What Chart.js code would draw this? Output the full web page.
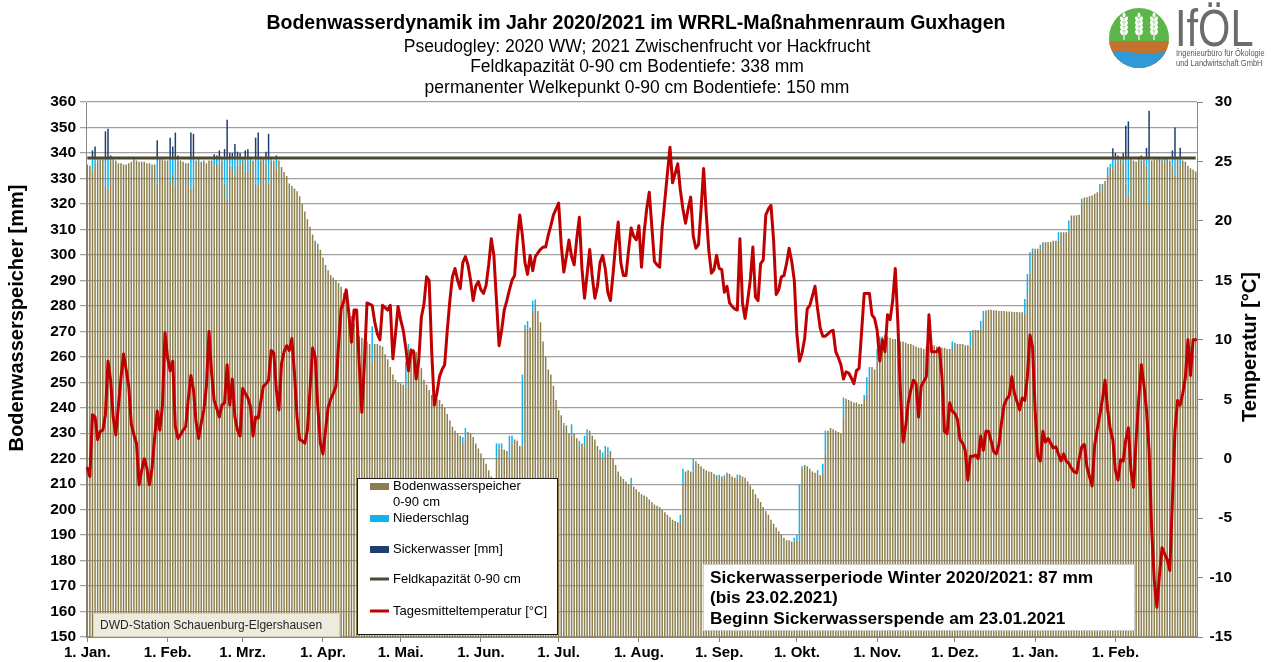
<!DOCTYPE html>
<html>
<head>
<meta charset="utf-8">
<script src="https://cdn.jsdelivr.net/npm/chart.js@4.4.1/dist/chart.umd.min.js"></script>
<style>
html,body{margin:0;padding:0;background:#fff;}
#wrap{position:relative;width:1271px;height:662px;}
canvas{display:block;}
</style>
</head>
<body>
<div id="wrap"><canvas id="c" width="1271" height="662"></canvas></div>
<script>
// ---------------- DATA (daily, 1 Jan 2020 onwards) ----------------
const startDate = '2020-01-01';

// Bodenwasserspeicher 0-90 cm [mm]
const soilWater = [
335.5,335,333,336,337,337.5,337.5,327,326,337,
337.5,337,336,336,335.5,335.5,336,336.5,337.5,337,
336.5,336.5,336.5,336,336,335.5,335.5,328,337.5,337.5,
337,337,329,332,327,337,337,336.5,336,336,
326,327,337,336.5,336.5,337,336,337,337,335,
336,334.5,337,328,322,335,334.5,332,335,336,
337,333,333,336.5,337,328,327,337,337.5,336,
328,337,337,334,337,334.5,332.5,331,328,327,
326,325,323,320,317,314,311,308,305,304,
302,299,296,294,292,291,290,289,287.5,285,
282,279,276,273,270,268,267.5,267,266,265,
258,265,265,264.5,264,261,259,256,253,251,
250,249.5,249,248,263,263.5,263,262,258,255.5,
251,249,247,245,244,243.5,243,241.5,240,237.5,
235,232.5,231,230,229,226,227,230.5,230,228.5,
226,224,222,220,218,215.5,213,212,220,224,
224,223.5,223,220,226,227.5,227,225,225,270.5,
271,271.5,278,280,278,273.5,266,260,255,253,
248.6,243,239,237,233,233,230,229,230,228,
225,226,225,229,231,229,227.5,225,223.5,220,
221,222,223,220,217.5,215,213,212,211,210,
210,209,208,207,206,205.5,205,204,203,202,
201.5,201,200,199,198,197,196,195.5,195,195,
210,215,215.5,215,215,219,218,217,216,215.4,
215,214.8,214,213.5,212,213,212.5,214.5,214,213,
212.5,212,213.7,213,212.5,211,209.5,208,206,204.5,
203,201,199.5,198,196,194.5,193,191.5,190,189,
188,188,187.5,187.5,188,188,216,217.5,217,216,
215,214.5,214,213.5,214,222,231,232,231.5,231,
230.5,230,236,243.5,243,242.5,242,242,241.5,241.5,
243,245,251,256,255,258,263,268,268.5,268,
267.5,267,267,266.5,266,266,265.5,265,265,264.5,
264,263.5,263.5,263,262,264,264,264.5,264,264,
263.5,263.5,263,263,263,265.5,265,265,265,264.5,
264.5,264,270.5,270.5,270.5,271,274,278.2,278.5,278.5,
278.3,278.2,278,278,278,277.8,277.8,277.7,277.6,277.6,
277.5,277.5,277,283,292.5,301.5,302.4,302.4,302.5,304.9,
304.9,305,305,305.5,305.5,305.5,308.9,308.9,308.9,309,
315.4,315.4,315.5,315.7,320,322.5,322.6,323,323.3,324,
324.6,325,327.8,329,331,334.4,334,336,337,337.5,
336,328,323,337.5,337,336.5,337,337,337.5,335,
320,337,337.5,337.5,337.5,337.5,336.5,337.5,337,335.5,
331,337.5,335,337,336.5,335,334,333.4,332.7
];

// Niederschlag [mm] : [day index, mm]
const precipitation = [
[2,5],[3,2],[4,1.5],[7,11],[8,12],[9,1],[27,10],[32,9],[33,6],[34,11],[35,1],
[40,12],[41,11],[43,2],[49,3],[50,2],[51,3.5],[52,1],[53,10],[54,16],[55,3],
[56,3.5],[57,6],[58,3],[59,2],[60,1],[61,5],[62,5],[63,1.5],[65,10],[66,11],
[67,1.5],[69,2],[70,10],[71,1.5],[73,4],[88,0.5],[89,0.5],[110,14],[123,10],
[124,2],[145,2.5],[146,5],[158,6],[159,2],[160,2],[163,9],[164,3],[168,28],
[169,2],[170,3],[172,4],[173,2.5],[184,1],[187,4.5],[190,2],[192,4],[193,2.5],
[199,2.5],[200,4],[201,2.5],[210,2.5],[229,3],[230,6],[234,5],[244,1.7],[246,1],
[251,1.7],[273,1.5],[274,2],[275,22],[276,1],[282,1.5],[284,4],[285,9],[292,8],
[300,2],[301,7],[302,5],[305,5],[306,5],[324,2],[334,3],[341,6],[345,3],[346,4],
[362,5.7],[363,9.5],[364,8.5],[365,1],[368,1.5],[375,3.4],[379,4.5],[384,2],
[391,2.8],[394,3.4],[395,1.3],[396,4],[397,2],[398,1],[400,2],[401,10],[402,15],
[406,1],[407,1],[409,3],[410,18],[416,1.5],[419,2.5],[420,7],[422,3]
];

// Sickerwasser [mm] : [day index, mm]
const seepage = [
[2,3],[3,4.5],[7,10.5],[8,11.5],[9,1],[27,7],[32,8],[33,4.5],[34,10],[35,1],
[40,10],[41,9.5],[49,1.5],[50,1],[51,3],[53,3.5],[54,15],[55,2],[56,2],[57,5.5],
[58,2.5],[59,2],[61,3],[62,3.5],[65,8],[66,10],[69,2.5],[70,9.5],[73,1],
[396,3.8],[397,2],[398,1],[400,2],[401,12.7],[402,14.4],[406,0.5],[407,1],
[409,4],[410,18.6],[419,3],[420,12],[422,4]
];

// Tagesmitteltemperatur [°C]
const temperature = [
-0.8,-1.5,3.7,3.5,1.6,2.3,2.4,3.7,8.2,6.6,
3.5,2.0,4.4,6.8,8.8,7.5,6.1,2.9,2.0,1.3,
-2.2,-1.0,0.0,-0.8,-2.2,-0.8,1.8,4.0,2.4,4.4,
10.6,8.5,7.4,8.2,2.7,1.7,2.0,2.4,2.7,5.0,
7.0,5.8,3.1,1.7,3.0,4.1,6.1,10.7,7.2,4.9,
4.2,3.5,4.5,4.7,7.9,4.5,6.7,3.5,2.4,1.9,
5.9,5.5,5.1,4.4,1.9,3.5,3.4,4.8,6.1,6.3,
6.6,9.1,8.9,5.8,4.1,8.0,9.0,9.5,9.1,10.1,
7.2,3.5,1.6,1.5,1.3,2.4,5.8,9.3,8.6,4.4,
1.3,0.4,2.4,4.3,5.0,5.5,6.1,9.5,12.6,13.2,
14.2,12.2,9.8,12.5,12.5,8.0,3.9,8.0,13.1,13.0,
12.9,11.5,10.5,10.0,12.9,12.7,12.5,12.9,8.4,10.5,
12.8,11.7,10.8,9.3,7.4,9.1,9.0,6.7,8.3,11.9,
13.0,15.3,15.0,9.0,4.5,5.5,6.9,7.5,7.9,10.8,
13.3,15.3,16.0,15.0,14.3,16.5,17.0,16.3,15.0,13.3,
14.5,14.9,14.2,13.9,14.6,16.3,18.5,17.1,13.3,9.5,
10.8,12.5,13.3,14.2,15.0,15.4,18.4,20.5,18.8,16.5,
15.5,17.1,15.8,17.0,17.3,17.6,17.8,17.8,18.8,19.6,
20.5,21.0,21.5,18.0,15.7,17.0,18.4,17.0,16.3,18.5,
20.3,16.0,13.5,15.5,17.6,15.3,13.5,14.5,16.5,17.1,
16.0,14.0,13.3,15.5,18.0,19.9,16.5,15.4,15.4,17.5,
19.4,18.7,18.4,19.6,16.1,19.0,21.0,22.4,19.5,16.6,
16.3,16.1,19.5,21.7,24.0,26.2,23.2,24.0,24.8,22.6,
21.0,19.8,21.0,22.0,18.7,17.7,18.0,21.0,24.4,20.6,
17.5,15.6,15.9,17.1,16.0,15.9,14.0,14.5,13.1,12.8,
12.6,12.5,18.5,13.1,11.8,13.3,15.0,17.8,13.6,13.3,
16.4,16.7,20.5,21.0,21.3,18.4,13.8,14.2,15.3,15.4,
16.4,17.7,16.6,15.0,10.5,8.2,8.9,10.1,12.6,12.9,
13.7,14.5,12.6,11.0,10.3,10.3,10.5,10.7,10.8,9.0,
8.5,7.9,6.7,7.3,7.2,6.8,6.3,7.4,7.6,10.7,
13.9,13.9,13.9,12.1,11.8,10.8,8.2,10.0,9.0,12.1,
11.7,13.3,16.0,11.4,5.5,1.4,2.7,4.7,5.8,6.6,
6.3,3.5,6.1,6.5,6.9,12.1,9.0,9.0,9.0,9.3,
6.9,2.3,2.1,4.7,4.0,3.8,3.3,1.6,1.3,0.7,
-1.8,0.2,0.2,0.3,0.0,1.9,0.7,2.3,2.3,1.5,
0.6,0.4,1.2,3.0,4.5,5.0,5.3,6.9,5.5,4.8,
4.1,5.1,4.9,6.9,10.4,9.4,4.1,0.2,-0.2,2.3,
1.4,1.7,1.3,0.9,1.0,0.4,-0.2,0.4,-0.2,-0.4,
-0.8,-1.1,-1.2,0.0,1.0,1.2,-0.7,-1.5,-2.3,1.2,
2.5,3.7,5.0,6.6,4.1,2.5,1.6,-1.0,-1.8,-0.1,
-0.2,1.6,2.6,-1.0,-2.4,1.6,5.0,7.9,6.2,4.1,
0.7,-6.0,-10.2,-12.5,-9.8,-7.5,-8.0,-8.5,-9.4,-3.5,
2.4,4.9,4.5,5.5,6.8,10.0,7.0,10.0,10.0
];

const fieldCapacity = 338;  // Feldkapazität 0-90 cm [mm]

// Tick labels (first day of each month)
const tickDays   = [0,31,60,91,121,152,182,213,244,274,305,335,366,397];
const tickLabels = ['1. Jan.','1. Feb.','1. Mrz.','1. Apr.','1. Mai.','1. Jun.','1. Jul.','1. Aug.','1. Sep.','1. Okt.','1. Nov.','1. Dez.','1. Jan.','1. Feb.'];

// ---------------- build tables for Chart.js ----------------
const t0 = Date.parse(startDate + 'T00:00:00Z');
const labels = soilWater.map((_, i) => new Date(t0 + i * 86400000).toISOString().slice(0, 10));
function fromEvents(events) {
  const arr = soilWater.map(() => 0);
  events.forEach(([d, v]) => { arr[d] = v; });
  return arr;
}
const precipData = fromEvents(precipitation);
const seepageData = fromEvents(seepage);
const fkData = labels.map(() => fieldCapacity);

const FONT = "'Liberation Sans', Arial, Helvetica, sans-serif";
const COL_SOIL = '#8c7f4e';
const COL_PREC = '#12b2ee';
const COL_SEEP = '#1f3f72';
const COL_FK = '#4c4830';
const COL_TEMP = '#c00000';

const deco = {
  id: 'deco',
  beforeDraw(chart) {
    const ctx = chart.ctx;
    ctx.save();
    ctx.fillStyle = '#fff';
    ctx.fillRect(0, 0, chart.width, chart.height);
    ctx.restore();
  },
  afterDraw(chart) {
    const ctx = chart.ctx;
    ctx.save();
    // Titles
    ctx.fillStyle = '#000';
    ctx.textAlign = 'center';
    ctx.textBaseline = 'middle';
    ctx.font = 'bold 19.5px ' + FONT;
    ctx.fillText('Bodenwasserdynamik im Jahr 2020/2021 im WRRL-Maßnahmenraum Guxhagen', 636, 24);
    ctx.font = '17.5px ' + FONT;
    ctx.fillText('Pseudogley: 2020 WW; 2021 Zwischenfrucht vor Hackfrucht', 637, 47);
    ctx.fillText('Feldkapazität 0-90 cm Bodentiefe: 338 mm', 637, 67.5);
    ctx.fillText('permanenter Welkepunkt 0-90 cm Bodentiefe: 150 mm', 637, 88);

    // Axis titles
    ctx.font = 'bold 20px ' + FONT;
    ctx.save();
    ctx.translate(17, 318);
    ctx.rotate(-Math.PI / 2);
    ctx.fillText('Bodenwasserspeicher [mm]', 0, 0);
    ctx.restore();
    ctx.save();
    ctx.translate(1250, 347);
    ctx.rotate(-Math.PI / 2);
    ctx.fillText('Temperatur [°C]', 0, 0);
    ctx.restore();

    // DWD station box
    ctx.fillStyle = '#eeeadc';
    ctx.fillRect(93, 613, 246, 23);
    ctx.strokeStyle = '#d6d1bf';
    ctx.lineWidth = 1;
    ctx.strokeRect(93.5, 613.5, 246, 23);
    ctx.fillStyle = '#262626';
    ctx.textAlign = 'left';
    ctx.font = '12px ' + FONT;
    ctx.fillText('DWD-Station Schauenburg-Elgershausen', 100, 625.5);

    // Legend
    ctx.fillStyle = '#fff';
    ctx.fillRect(357, 478, 200, 156);
    ctx.strokeStyle = '#1a1a1a';
    ctx.lineWidth = 1;
    ctx.strokeRect(357.5, 478.5, 200, 156);
    ctx.font = '13px ' + FONT;
    ctx.fillStyle = COL_SOIL; ctx.fillRect(370, 483, 19, 7);
    ctx.fillStyle = COL_PREC; ctx.fillRect(370, 515, 19, 7);
    ctx.fillStyle = COL_SEEP; ctx.fillRect(370, 546, 19, 7);
    ctx.strokeStyle = COL_FK; ctx.lineWidth = 3;
    ctx.beginPath(); ctx.moveTo(370, 579); ctx.lineTo(389, 579); ctx.stroke();
    ctx.strokeStyle = COL_TEMP; ctx.lineWidth = 3;
    ctx.beginPath(); ctx.moveTo(370, 611); ctx.lineTo(389, 611); ctx.stroke();
    ctx.fillStyle = '#000';
    ctx.fillText('Bodenwasserspeicher', 393, 486);
    ctx.fillText('0-90 cm', 393, 502);
    ctx.fillText('Niederschlag', 393, 518);
    ctx.fillText('Sickerwasser [mm]', 393, 549);
    ctx.fillText('Feldkapazität 0-90 cm', 393, 579);
    ctx.fillText('Tagesmitteltemperatur [°C]', 393, 611);

    // Annotation box
    ctx.fillStyle = '#fff';
    ctx.fillRect(703, 564, 431, 66);
    ctx.strokeStyle = '#cfcfcf';
    ctx.lineWidth = 1;
    ctx.strokeRect(703.5, 564.5, 431, 66);
    ctx.fillStyle = '#000';
    ctx.font = 'bold 17.3px ' + FONT;
    ctx.fillText('Sickerwasserperiode Winter 2020/2021: 87 mm', 710, 578);
    ctx.fillText('(bis 23.02.2021)', 710, 598.5);
    ctx.fillText('Beginn Sickerwasserspende am 23.01.2021', 710, 619);

    // Logo
    const cx = 1139, cy = 38, r = 30;
    ctx.save();
    ctx.beginPath(); ctx.arc(cx, cy, r, 0, Math.PI * 2); ctx.clip();
    ctx.fillStyle = '#5db649'; ctx.fillRect(cx - r, cy - r, 2 * r, 2 * r);
    ctx.fillStyle = '#c3732f'; ctx.fillRect(cx - r, cy + 3, 2 * r, r);
    ctx.fillStyle = '#2f9ad6';
    ctx.beginPath();
    ctx.moveTo(cx - r, cy + 15);
    ctx.bezierCurveTo(cx - 14, cy + 8, cx + 2, cy + 22, cx + r, cy + 12);
    ctx.lineTo(cx + r, cy + r); ctx.lineTo(cx - r, cy + r); ctx.closePath(); ctx.fill();
    ctx.fillStyle = '#fff'; ctx.strokeStyle = '#fff'; ctx.lineWidth = 1.2;
    [cx - 15, cx, cx + 15].forEach(wx => {
      ctx.beginPath(); ctx.moveTo(wx, 18); ctx.lineTo(wx, 40); ctx.stroke();
      for (let k = 0; k < 4; k++) {
        const gy = 17 + k * 4.5;
        ctx.beginPath(); ctx.ellipse(wx - 2.2, gy + 2, 1.6, 2.6, -0.4, 0, Math.PI * 2); ctx.fill();
        ctx.beginPath(); ctx.ellipse(wx + 2.2, gy + 2, 1.6, 2.6, 0.4, 0, Math.PI * 2); ctx.fill();
      }
      ctx.beginPath(); ctx.ellipse(wx, 15, 1.5, 2.6, 0, 0, Math.PI * 2); ctx.fill();
    });
    ctx.restore();
    ctx.fillStyle = '#6b6b6b';
    ctx.textBaseline = 'alphabetic';
    ctx.save();
    ctx.translate(1175, 46);
    ctx.scale(0.8, 1);
    ctx.font = '52px ' + FONT;
    ctx.fillText('IfÖL', 0, 0);
    ctx.restore();
    ctx.save();
    ctx.translate(1176, 56);
    ctx.scale(0.88, 1);
    ctx.font = '8.5px ' + FONT;
    ctx.fillStyle = '#555';
    ctx.fillText('Ingenieurbüro für Ökologie', 0, 0);
    ctx.fillText('und Landwirtschaft GmbH', 0, 10);
    ctx.restore();

    ctx.restore();
  }
};

const barCommon = { barPercentage: 0.58, categoryPercentage: 1.0, borderWidth: 0, stack: 'w', yAxisID: 'y', order: 2 };

new Chart(document.getElementById('c'), {
  type: 'bar',
  data: {
    labels: labels,
    datasets: [
      { type: 'line', label: 'Tagesmitteltemperatur [°C]', data: temperature, yAxisID: 'y2',
        borderColor: COL_TEMP, borderWidth: 3, pointRadius: 0, tension: 0,
        borderJoinStyle: 'round', borderCapStyle: 'round', order: 0 },
      { type: 'line', label: 'Feldkapazität 0-90 cm', data: fkData, yAxisID: 'y', stack: 'fk',
        borderColor: COL_FK, borderWidth: 3, pointRadius: 0, order: 1 },
      Object.assign({ label: 'Bodenwasserspeicher 0-90 cm', data: soilWater, backgroundColor: COL_SOIL }, barCommon),
      Object.assign({ label: 'Niederschlag', data: precipData, backgroundColor: COL_PREC }, barCommon),
      Object.assign({ label: 'Sickerwasser [mm]', data: seepageData, backgroundColor: COL_SEEP }, barCommon)
    ]
  },
  options: {
    responsive: false,
    devicePixelRatio: 1,
    animation: false,
    layout: { padding: { top: 102, right: 39, left: 0, bottom: 0 } },
    plugins: { legend: { display: false }, tooltip: { enabled: false }, title: { display: false } },
    scales: {
      x: {
        type: 'category',
        stacked: true,
        offset: true,
        grid: { display: true, drawOnChartArea: false, drawTicks: true, tickLength: 5, color: '#868686', offset: false },
        border: { display: true, color: '#868686', width: 1 },
        ticks: {
          autoSkip: false, maxRotation: 0, minRotation: 0, padding: 2, color: '#000',
          font: { family: FONT, size: 15, weight: 'bold' },
          callback: function (v) { const i = tickDays.indexOf(v); return i >= 0 ? tickLabels[i] : ''; }
        },
        afterBuildTicks: s => { s.ticks = s.ticks.filter(t => tickDays.includes(t.value)); },
        afterFit: s => { s.height = 25; }
      },
      y: {
        type: 'linear', position: 'left', stacked: true, min: 150, max: 360,
        ticks: { stepSize: 10, color: '#000', padding: 4, font: { family: FONT, size: 15.5, weight: 'bold' } },
        grid: { color: '#a0a0a0', lineWidth: 1.25, tickLength: 6, drawTicks: true },
        border: { display: true, color: '#868686', width: 1 },
        afterFit: s => { s.width = 86; }
      },
      y2: {
        type: 'linear', position: 'right', min: -15, max: 30,
        ticks: { stepSize: 5, color: '#000', padding: 4, crossAlign: 'far', font: { family: FONT, size: 15.5, weight: 'bold' } },
        grid: { drawOnChartArea: false, tickLength: 6, color: '#868686' },
        border: { display: true, color: '#868686', width: 1 },
        afterFit: s => { s.width = 35; }
      }
    }
  },
  plugins: [deco]
});
</script>
</body>
</html>
